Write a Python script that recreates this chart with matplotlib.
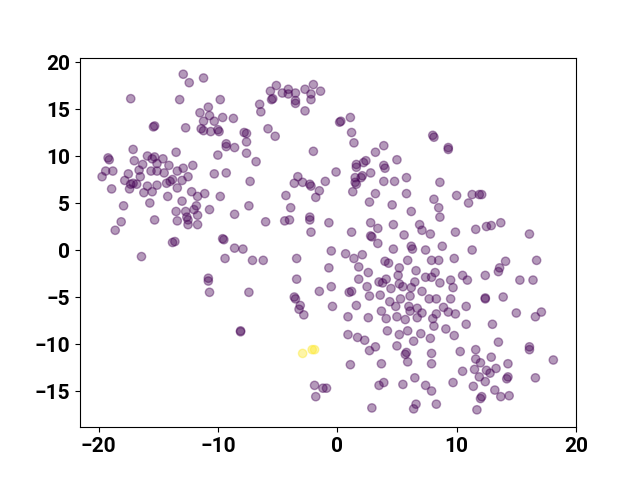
import numpy as np
import matplotlib
matplotlib.use("Agg")
import matplotlib.pyplot as plt

plt.rcParams['font.family'] = ['Roboto', 'DejaVu Sans']

purple_xy = [
    (-12.9, 18.7), (-12.4, 17.8), (-11.2, 18.3), (-17.3, 16.1), (-13.2, 16.0), (-9.8, 16.0), (-10.8, 15.2),
    (-11.5, 14.6), (-10.7, 14.3), (-11.2, 13.7), (-10.3, 13.7), (-9.6, 14.1), (-8.7, 14.0), (-15.4, 13.1),
    (-15.3, 13.2), (-12.7, 13.0), (-11.2, 12.7), (-11.4, 12.9), (-10.6, 12.6), (-10.0, 12.8), (-9.9, 12.6),
    (-7.8, 12.5), (-7.6, 12.4), (-7.6, 11.5), (-9.3, 11.3), (-9.3, 11.0), (-8.6, 10.9), (-7.6, 10.3),
    (-10.0, 10.1), (-13.5, 10.4), (-17.1, 10.7), (-19.2, 9.8), (-19.1, 9.6), (-17.0, 9.5), (-15.9, 10.0),
    (-15.5, 9.7), (-15.3, 9.9), (-16.3, 9.1), (-14.6, 9.7), (-15.1, 9.2), (-14.1, 9.0), (-12.1, 9.0),
    (-12.9, 8.7), (-13.4, 8.4), (-15.6, 8.4), (-15.1, 8.4), (-14.5, 8.2), (-16.6, 8.5), (-16.5, 7.8),
    (-17.5, 8.1), (-17.8, 7.4), (-18.8, 8.4), (-19.4, 8.4), (-19.7, 7.8), (-10.3, 8.1), (-9.3, 8.2),
    (-12.5, 7.8), (-13.0, 7.4), (-14.0, 7.3), (-13.8, 7.5), (-17.1, 7.1), (-17.3, 7.0),
    (-18.9, 6.5), (-17.4, 6.5), (-16.8, 7.0), (-15.9, 6.8), (-16.2, 6.1), (-15.5, 6.2), (-15.1, 6.9),
    (-14.3, 7.1), (-13.4, 6.6), (-14.2, 5.7), (-12.2, 6.2), (-11.7, 5.7), (-11.1, 6.0), (-9.8, 5.7),
    (-17.9, 4.7), (-15.7, 5.0), (-13.0, 5.2), (-13.5, 4.1), (-12.7, 4.1), (-12.0, 4.3), (-11.8, 4.7),
    (-11.7, 3.7), (-10.7, 4.3), (-8.6, 3.8), (-7.4, 4.7), (-18.1, 3.0), (-18.6, 2.1), (-15.3, 3.2),
    (-13.4, 3.1), (-12.5, 3.2), (-12.6, 3.5), (-12.5, 2.7), (-11.7, 2.7), (-13.8, 0.8), (-13.6, 0.9),
    (-9.6, 1.2), (-9.5, 1.1), (-8.6, 0.2), (-7.9, 0.1), (-9.4, -0.9), (-16.4, -0.7), (-10.8, -3.0),
    (-10.8, -3.3), (-10.7, -4.5), (-7.4, -4.5), (-8.1, -8.7), (-8.1, -8.6),
    (-5.1, 17.5), (-5.6, 16.9), (-4.6, 16.7), (-4.1, 17.1), (-4.1, 16.6), (-3.5, 16.7), (-3.5, 15.9),
    (-3.5, 15.6), (-2.7, 17.1), (-2.0, 17.6), (-2.2, 16.6), (-1.4, 16.9), (-2.2, 16.0), (-5.5, 16.0),
    (-5.4, 16.1), (-6.5, 15.5), (-6.4, 14.7), (-2.7, 14.8), (0.2, 13.6), (0.3, 13.7), (1.1, 14.1),
    (-5.8, 12.9), (-5.2, 12.1), (-6.8, 9.4), (1.2, 12.5), (1.4, 11.4), (-2.0, 10.5), (3.9, 11.1),
    (3.2, 10.4), (5.0, 9.6), (2.4, 9.5), (2.2, 9.3), (1.6, 9.1), (1.6, 8.8), (3.9, 9.0), (4.0, 8.7),
    (2.8, 8.2), (2.1, 7.9), (2.0, 7.7), (1.5, 7.7), (-0.1, 8.3), (5.8, 7.7), (3.9, 7.3), (4.8, 7.3),
    (-7.3, 7.3), (-3.3, 7.8), (-3.6, 7.1), (-2.9, 7.2), (-2.3, 7.0), (-2.2, 6.8), (-1.0, 7.3),
    (1.5, 7.2), (1.6, 7.0),
    (-1.5, 6.3), (-1.8, 5.6), (-4.3, 5.8), (1.3, 6.2), (3.2, 6.0), (2.7, 5.1), (4.6, 4.8), (5.8, 6.0),
    (6.2, 4.1), (-3.9, 4.5), (-6.0, 3.0), (-4.4, 3.1), (-4.0, 3.2), (-2.3, 3.5), (-2.3, 3.2), (-2.2, 1.9),
    (-0.7, 2.9), (1.2, 1.9), (2.8, 2.9), (3.4, 2.3), (2.9, 1.4), (2.8, 1.5), (3.4, 0.7), (4.7, 2.7),
    (5.6, 1.6), (6.2, 0.4), (6.3, 0.1), (4.7, 0.1), (-7.1, -1.1), (-6.2, -1.1), (-3.4, -0.9), (-0.5, -0.1),
    (0.7, -0.4), (1.4, -0.9), (2.1, -0.5), (1.8, -1.8), (-0.7, -1.9), (4.0, -1.2), (4.3, -1.4), (5.9, -1.1),
    (5.2, -1.9), (2.6, -2.4), (1.8, -3.1), (5.1, -2.7), (4.1, -3.1), (3.5, -3.4), (3.8, -3.5), (4.5, -4.1),
    (5.2, -3.6), (5.5, -3.9), (6.2, -4.0), (2.5, -3.9), (-3.4, -3.1), (-1.5, -4.4), (-0.5, -3.9),
    (1.0, -4.5), (1.2, -4.4), (2.7, -4.9), (3.6, -4.8), (5.3, -5.2), (6.1, -4.9), (-3.6, -5.0),
    (-3.5, -5.2), (-3.1, -5.9), (-3.2, -6.3), (-2.8, -6.9), (-0.4, -6.0), (1.6, -5.9), (4.4, -5.5),
    (6.0, -6.0), (6.1, -6.5), (5.7, -7.4),
    (0.9, -7.1), (2.6, -7.2), (3.7, -6.5), (4.1, -7.3), (4.9, -6.0), (5.0, -7.1), (4.2, -8.6), (5.2, -9.0),
    (5.9, -8.6), (0.9, -9.0), (1.7, -9.3), (2.3, -9.6), (3.2, -10.3), (2.7, -10.7), (5.0, -10.2),
    (5.7, -11.1), (5.8, -10.9), (5.9, -11.9), (6.4, -9.7), (1.1, -12.2), (3.7, -12.1), (3.5, -14.4),
    (3.9, -14.1), (5.5, -14.3), (-1.9, -14.4), (-1.2, -14.7), (-0.9, -14.7), (-1.8, -15.6), (2.9, -16.8),
    (6.4, -16.9), (6.5, -13.6),
    (8.0, 12.2), (8.1, 12.0), (9.3, 10.9), (9.3, 10.7), (8.6, 7.2),
    (10.0, 5.8), (11.3, 5.9), (11.9, 5.9), (12.1, 5.9), (11.0, 5.0), (8.1, 5.4), (8.5, 4.5), (8.6, 3.5),
    (6.9, 2.7), (7.1, 2.1), (7.8, 1.7), (9.9, 1.9), (11.6, 2.2), (12.5, 2.5), (12.9, 2.6), (13.7, 2.9),
    (16.1, 1.7), (7.4, 0.0), (8.8, 0.4), (11.3, 0.0), (9.8, -0.9), (7.9, -1.1), (8.5, -1.1), (6.6, -2.2),
    (8.2, -2.4), (7.4, -2.9), (7.9, -2.9), (8.6, -3.5), (9.5, -3.2), (9.7, -4.0), (10.5, -2.7),
    (10.9, -3.2), (12.4, -2.7), (13.6, -1.9), (13.5, -2.3), (14.1, -1.2), (16.7, -1.1), (15.3, -3.2),
    (16.4, -3.2), (6.5, -3.4), (7.1, -4.4), (7.7, -5.2), (8.3, -5.2), (9.5, -5.2), (12.4, -5.2),
    (12.4, -5.1), (13.9, -5.0), (6.7, -6.2), (8.9, -6.1), (10.8, -6.0),
    (7.1, -6.7), (6.7, -7.2), (9.3, -6.6), (9.9, -6.8), (8.3, -6.8), (8.0, -7.3), (8.1, -8.1), (9.1, -8.4),
    (9.8, -9.1), (10.8, -7.9), (13.0, -7.9), (15.0, -6.7), (16.6, -7.1), (17.1, -6.6), (7.0, -8.9),
    (7.8, -9.4), (13.5, -9.8), (7.9, -11.0), (7.9, -12.1), (10.3, -10.8), (11.6, -10.6), (11.6, -11.6),
    (12.0, -12.0), (12.9, -11.4), (16.1, -10.3), (16.1, -10.6), (18.1, -11.7), (14.3, -12.1),
    (10.5, -12.9), (11.5, -12.7), (12.5, -12.8), (12.8, -13.1), (13.3, -12.6), (11.9, -13.5),
    (12.4, -14.0), (14.2, -13.7), (14.3, -13.5), (16.6, -13.6), (7.4, -14.4), (7.9, -15.0), (9.7, -14.1),
    (11.4, -14.5), (13.2, -14.9), (13.7, -15.6), (14.4, -15.5), (12.0, -15.8), (12.1, -15.6),
    (11.7, -17.0), (8.3, -16.4), (6.6, -16.4),
]
yellow_xy = [(-2.9, -11.0), (-2.1, -10.6), (-1.9, -10.6)]

x = np.array([p[0] for p in purple_xy] + [p[0] for p in yellow_xy])
y = np.array([p[1] for p in purple_xy] + [p[1] for p in yellow_xy])
labels = np.array([0] * len(purple_xy) + [1] * len(yellow_xy))

fig, ax = plt.subplots(figsize=(6.4, 4.8), dpi=100)
ax.scatter(x, y, c=labels, cmap='viridis', alpha=0.4)
ax.set_xlim(-21.55, 20.0)
ax.set_ylim(-18.85, 20.47)
ax.set_xticks([-20, -10, 0, 10, 20])
ax.set_yticks([-15, -10, -5, 0, 5, 10, 15, 20])
for lab in ax.get_xticklabels() + ax.get_yticklabels():
    lab.set_fontsize(15)
    lab.set_fontweight('bold')
fig.savefig('out.png', dpi=100)
